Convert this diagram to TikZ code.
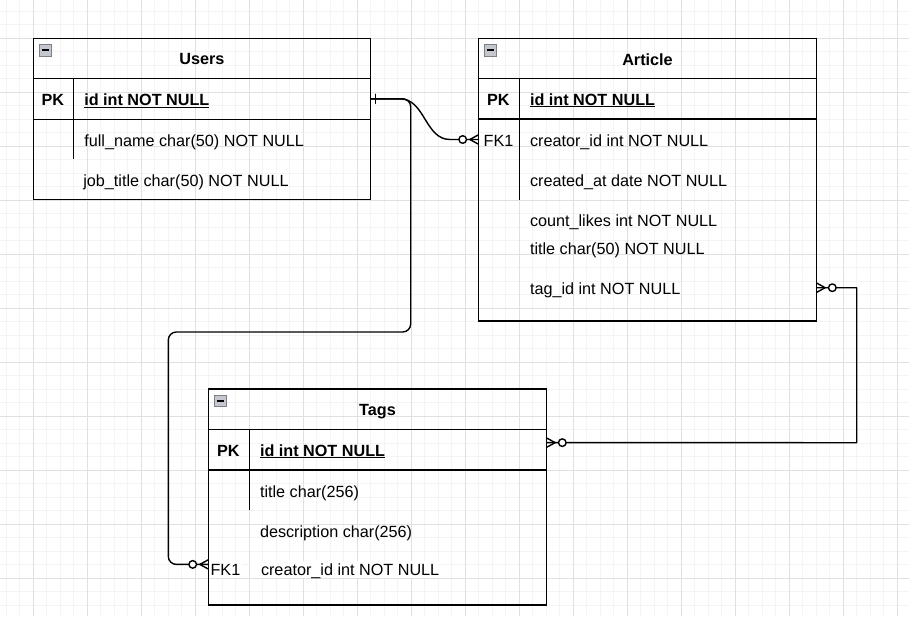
\documentclass[tikz,border=0pt]{standalone}
\usepackage{fontspec}
\setmainfont{Liberation Sans}
\usetikzlibrary{calc}
\definecolor{gridminor}{RGB}{244,244,244}
\definecolor{gridmajor}{RGB}{224,224,224}
\definecolor{iconfill}{RGB}{196,200,206}
\definecolor{iconedge}{RGB}{125,128,134}
\tikzset{
  every node/.style={inner sep=0pt, outer sep=0pt},
  fld/.style={font=\fontsize{16.2pt}{19pt}\selectfont, anchor=base west},
  key/.style={font=\fontsize{16.2pt}{19pt}\selectfont, anchor=base},
  ttl/.style={font=\fontsize{16.2pt}{19pt}\selectfont\bfseries, anchor=base},
  pkfld/.style={font=\fontsize{16.2pt}{19pt}\selectfont\bfseries, anchor=base west},
  tbl/.style={draw=black, line width=1.35pt, anchor=north west},
  rowbox/.style={anchor=north west, minimum height=#1},
  sepline/.style={line width=1.35pt},
  conn/.style={line width=1.4pt, line cap=round, line join=round},
  labelbg/.style={fill=white, text height=14.3pt, text depth=2.7pt},
  pics/zeromany/.style={code={
    \draw[conn] (0,-4.6) -- (-8.5,0) -- (0,4.6);
    \draw[conn] (0,0) -- (-11.8,0);
    \draw[conn, fill=white] (-15.6,0) circle (3.8pt);
  }},
  pics/collapse/.style={code={
    \draw[draw=iconedge, fill=iconfill, line width=0.9pt] (6.5,6.2) rectangle (18.3,17.8);
    \draw[line width=1.8pt, black] (9,12) -- (15.8,12);
  }},
}
\begin{document}
\begin{tikzpicture}[x=1pt,y=-1pt]
\useasboundingbox (0,0) rectangle (909,616);
\fill[white] (0,0) rectangle (909,616);

% background grid
\foreach \k in {0,...,66} \draw[gridminor, line width=1pt] (6.3+13.5*\k,0) -- (6.3+13.5*\k,616);
\foreach \k in {0,...,44} \draw[gridminor, line width=1pt] (0,11.3+13.5*\k) -- (909,11.3+13.5*\k);
\foreach \k in {0,...,16} \draw[gridmajor, line width=1pt] (33.3+54*\k,0) -- (33.3+54*\k,616);
\foreach \k in {0,...,10} \draw[gridmajor, line width=1pt] (0,38.3+54*\k) -- (909,38.3+54*\k);

% ---------------- Users ----------------
\node[tbl, minimum width=337.4, minimum height=161] (users) at (33.3,38.3) {};
\node[rowbox=40, minimum width=337.4] (users-h)  at (33.3,38.3) {};
\node[rowbox=41, minimum width=337.4] (users-id) at (33.3,78.3) {};
\node[rowbox=40, minimum width=337.4] (users-fn) at (33.3,119.3) {};
\node[rowbox=40, minimum width=337.4] (users-jt) at (33.3,159.3) {};
\draw[sepline] (users-id.north west) -- (users-id.north east);
\draw[sepline] (users-id.south west) -- (users-id.south east);
\draw[sepline] ($(users-id.north west)+(40.4,0)$) -- ($(users-fn.south west)+(40.4,0)$);
\pic at (users.north west) {collapse};
\node[ttl] (users-title) at (202,64.5) {Users};
\node[ttl] (users-pk) at (52.8,105.5) {PK};
\node[pkfld] (users-idt) at (84.3,105.5) {\underline{id int NOT NULL}};
\node[fld] (users-f1) at (84.3,146) {full\_name char(50) NOT NULL};
\node[fld] (users-f2) at (83.3,186) {job\_title char(50) NOT NULL};

% ---------------- Article ----------------
\node[tbl, minimum width=338.4, minimum height=282.7] (article) at (478.3,38.3) {};
\node[rowbox=40, minimum width=338.4] (art-h)   at (478.3,38.3) {};
\node[rowbox=40.7, minimum width=338.4] (art-id) at (478.3,78.3) {};
\node[rowbox=41, minimum width=338.4] (art-fk)  at (478.3,119) {};
\node[rowbox=40, minimum width=338.4] (art-ca)  at (478.3,160) {};
\node[rowbox=40, minimum width=338.4] (art-tag) at (478.3,267.7) {};
\draw[sepline] (art-id.north west) -- (art-id.north east);
\draw[sepline] (art-id.south west) -- (art-id.south east);
\draw[sepline] ($(art-id.north west)+(41,0)$) -- ($(art-ca.south west)+(41,0)$);
\pic at (article.north west) {collapse};
\node[ttl] (art-title) at (647.5,65) {Article};
\node[ttl] (art-pk) at (498.3,105) {PK};
\node[pkfld] (art-idt) at (530,105) {\underline{id int NOT NULL}};
\node[key] (art-fk1) at (498.5,146) {FK1};
\node[fld] (art-f1) at (530,146) {creator\_id int NOT NULL};
\node[fld] (art-f2) at (530,186) {created\_at date NOT NULL};
\node[fld] (art-f3) at (530,226.7) {count\_likes int NOT NULL};
\node[fld] (art-f4) at (530,254) {title char(50) NOT NULL};
\node[fld] (art-f5) at (530,294) {tag\_id int NOT NULL};

% ---------------- Tags ----------------
\node[tbl, minimum width=338.4, minimum height=216] (tags) at (208.3,389) {};
\node[rowbox=40.3, minimum width=338.4] (tg-h)  at (208.3,389) {};
\node[rowbox=40.7, minimum width=338.4] (tg-id) at (208.3,429.3) {};
\node[rowbox=40, minimum width=338.4] (tg-ti)   at (208.3,470) {};
\node[rowbox=30, minimum width=338.4] (tg-fk)   at (208.3,549.4) {};
\draw[sepline] (tg-id.north west) -- (tg-id.north east);
\draw[sepline] (tg-id.south west) -- (tg-id.south east);
\draw[sepline] ($(tg-id.north west)+(41,0)$) -- ($(tg-ti.south west)+(41,0)$);
\pic at (tags.north west) {collapse};
\node[ttl] (tg-title) at (377.5,415.7) {Tags};
\node[ttl] (tg-pk) at (228.3,456) {PK};
\node[pkfld] (tg-idt) at (260,456) {\underline{id int NOT NULL}};
\node[fld] (tg-f1) at (260,497) {title char(256)};
\node[fld] (tg-f2) at (260,537.3) {description char(256)};
\node[key, labelbg, inner xsep=1.5pt] (tg-fk1) at (225.4,575) {FK1};
\node[fld, labelbg] (tg-f3) at (250,575) {\hspace*{11pt}creator\_id int NOT NULL};

% ---------------- relations ----------------
% Users.id -> Article.creator_id
\draw[conn] (users-id.east) -- ($(users-id.east)+(29.3,0)$)
  .. controls ($(users-id.east)+(54.3,0)$) and ($(art-fk.west)+(-53.3,0)$)
  .. ($(art-fk.west)+(-28.3,0)$) -- (art-fk.west);
% Users.id -> Tags.creator_id
\draw[conn, rounded corners=8pt] (users-id.east) -| (410.7,332) -| (168.3,564.4) -- (tg-fk.west);
% Article.tag_id -> Tags.id
\draw[conn] (art-tag.east) -| (856.7,442.7) -- ([yshift=7pt]tg-id.east);

% cardinality marks
\draw[conn] ([xshift=5pt]users-id.east) ++(0,-4.6) -- ++(0,9.2);
\pic at (art-fk.west) {zeromany};
\pic[rotate=180] at (art-tag.east) {zeromany};
\pic[rotate=180] at ([yshift=7pt]tg-id.east) {zeromany};
\pic at (tg-fk.west) {zeromany};
\end{tikzpicture}
\end{document}
